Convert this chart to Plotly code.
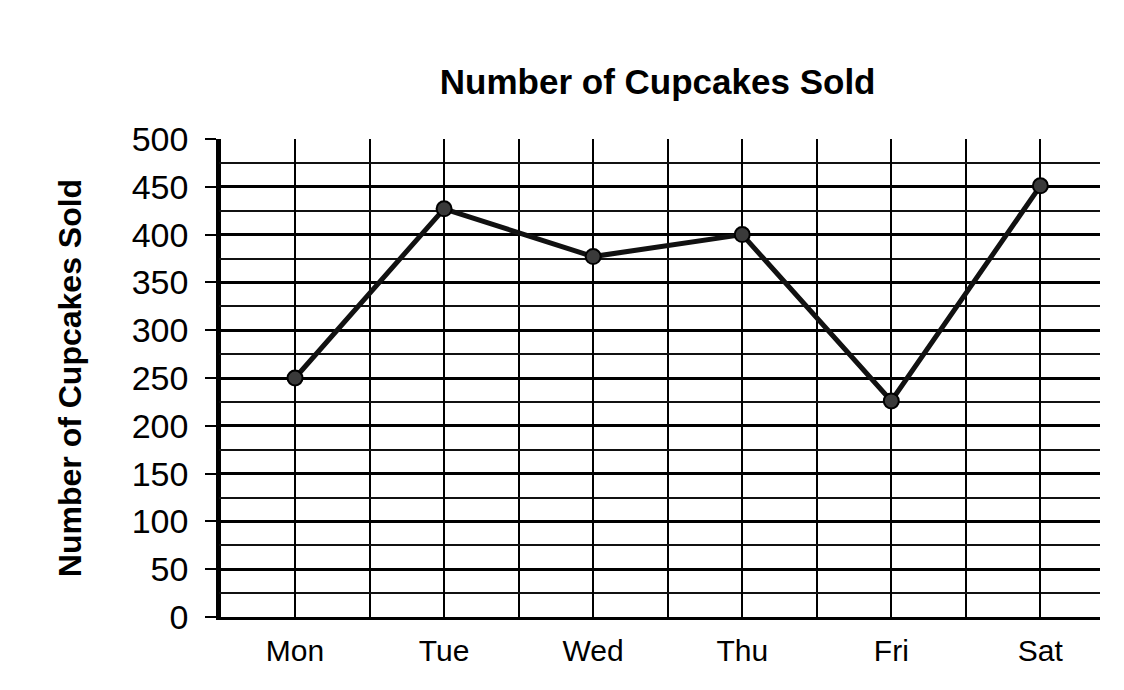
import plotly.graph_objects as go

# cupcakes sold per day
days = ['Mon', 'Tue', 'Wed', 'Thu', 'Fri', 'Sat']
cupcakes = [250, 427, 377, 400, 226, 451]
y_ticks = [0, 50, 100, 150, 200, 250, 300, 350, 400, 450, 500]

day_pos = list(range(len(days)))
# vertical lines half way between the days
half_pos = [i - 0.5 for i in range(len(days) + 1)]

font_name = 'Liberation Sans, Arial, sans-serif'

fig = go.Figure()
fig.add_trace(go.Scatter(
    x=day_pos,
    y=cupcakes,
    mode='lines+markers',
    line=dict(color='#111111', width=5),
    marker=dict(size=15, color='#3a3a3a', line=dict(color='#000000', width=2)),
    showlegend=False,
))

# page body adds 8px, so margins are shifted by that
fig.update_layout(
    width=1124,
    height=690,
    margin=dict(l=211, r=32, t=131, b=81),
    paper_bgcolor='white',
    plot_bgcolor='white',
    font=dict(family=font_name, color='black'),
    title=dict(
        text='<b>Number of Cupcakes Sold</b>',
        font=dict(size=35, color='black'),
        x=0.578, xanchor='center',
        y=0.893, yanchor='middle',
    ),
)

fig.update_xaxes(
    range=[-0.51, 5.40],
    tickmode='array',
    tickvals=day_pos,
    ticktext=days,
    tickfont=dict(size=30),
    ticklabelstandoff=5,
    showgrid=True,
    gridcolor='#000000',
    gridwidth=2,
    minor=dict(tickmode='array', tickvals=half_pos, showgrid=True,
               gridcolor='#000000', gridwidth=2),
    showline=True,
    linecolor='#000000',
    linewidth=3,
    zeroline=False,
    ticks='',
)

fig.update_yaxes(
    range=[0, 500],
    tickmode='array',
    tickvals=y_ticks,
    tickfont=dict(size=34),
    ticks='outside',
    ticklen=11,
    tickwidth=2,
    tickcolor='#000000',
    ticklabelstandoff=10,
    showgrid=True,
    gridcolor='#000000',
    gridwidth=2.5,
    minor=dict(dtick=25, showgrid=True, gridcolor='#111111', gridwidth=1.8),
    showline=True,
    linecolor='#000000',
    linewidth=2.5,
    zeroline=False,
    title=dict(text='<b>Number of Cupcakes Sold</b>',
               font=dict(size=32, color='black'), standoff=41),
    automargin=False,
)

fig.write_html('out.html')
